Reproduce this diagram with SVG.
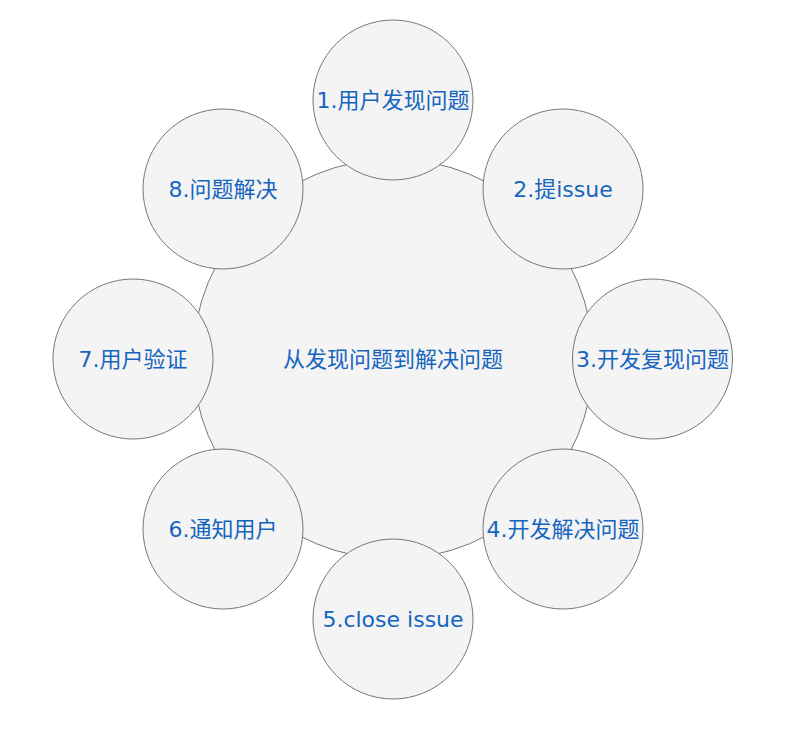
<svg xmlns="http://www.w3.org/2000/svg" width="799" height="729" viewBox="0 0 799 729">
<style>
.c{fill:#f4f4f4;stroke:#777;stroke-width:1}
.t{font-family:"DejaVu Sans","Noto Sans CJK SC",sans-serif;font-size:22px;fill:#1565c0;text-anchor:middle}
</style>
<rect width="799" height="729" fill="#fff"/>
<g id="center">
<circle class="c" cx="393" cy="359" r="200"/>
<text class="t" x="393" y="367">从发现问题到解决问题</text>
</g>
<g id="n1">
<circle class="c" cx="393" cy="100" r="80"/>
<text class="t" x="393" y="108">1.用户发现问题</text>
</g>
<g id="n2">
<circle class="c" cx="563" cy="189" r="80"/>
<text class="t" x="563" y="197">2.提issue</text>
</g>
<g id="n3">
<circle class="c" cx="652.5" cy="359" r="80"/>
<text class="t" x="652.5" y="367">3.开发复现问题</text>
</g>
<g id="n4">
<circle class="c" cx="563" cy="529" r="80"/>
<text class="t" x="563" y="537">4.开发解决问题</text>
</g>
<g id="n5">
<circle class="c" cx="393" cy="619" r="80"/>
<text class="t" x="393" y="627">5.close issue</text>
</g>
<g id="n6">
<circle class="c" cx="223" cy="529" r="80"/>
<text class="t" x="223" y="537">6.通知用户</text>
</g>
<g id="n7">
<circle class="c" cx="133" cy="359" r="80"/>
<text class="t" x="133" y="367">7.用户验证</text>
</g>
<g id="n8">
<circle class="c" cx="223" cy="189" r="80"/>
<text class="t" x="223" y="197">8.问题解决</text>
</g>
</svg>
